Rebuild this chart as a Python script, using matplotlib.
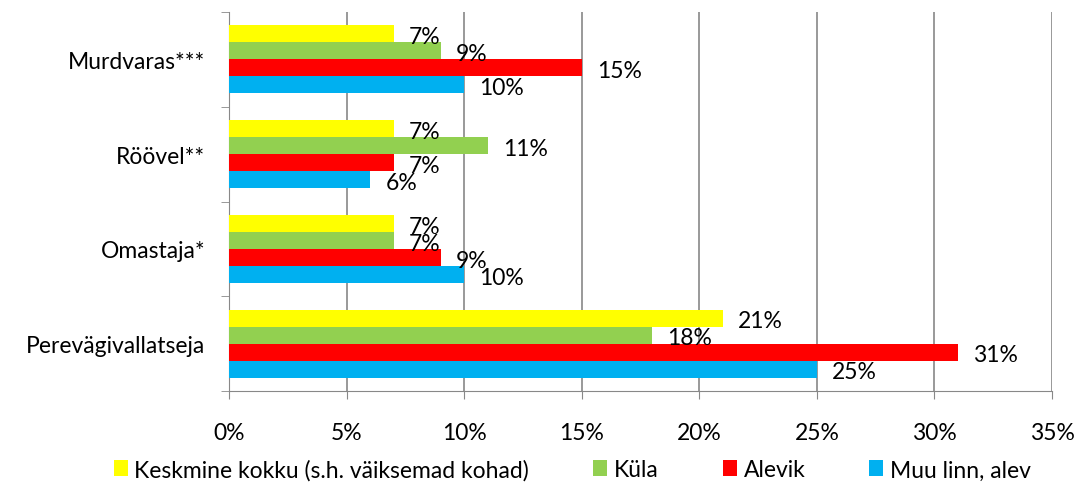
import matplotlib.pyplot as plt
import numpy as np

plt.rcParams['font.family'] = ['Lato', 'DejaVu Sans']

categories = ["Perevägivallatseja", "Omastaja*", "Röövel**", "Murdvaras***"]
series_names = ["Keskmine kokku (s.h. väiksemad kohad)", "Küla", "Alevik", "Muu linn, alev"]
colors = ["#FFFF00", "#92D050", "#FF0000", "#00B0F0"]

keskmine = [21, 7, 7, 7]
kyla = [18, 7, 11, 9]
alevik = [31, 9, 7, 15]
muu_linn = [25, 10, 6, 10]
values = [keskmine, kyla, alevik, muu_linn]

fig = plt.figure(figsize=(10.8, 4.85), dpi=100)
ax = fig.add_axes([229 / 1080, 1 - 392 / 485, (1052 - 229) / 1080, (392 - 13) / 485])

y = np.arange(len(categories))
h = 0.18
for i, (name, vals, c) in enumerate(zip(series_names, values, colors)):
    pos = y + (1.5 - i) * h
    ax.barh(pos, vals, height=h, color=c, label=name, zorder=3)
    for p, v in zip(pos, vals):
        ax.annotate(f"{v}%", (v, p), xytext=(11, -2), textcoords="offset points",
                    ha="left", va="center", fontsize=16.5, zorder=4)

ax.set_xlim(0, 35)
ax.set_ylim(-0.5, 3.5)
ax.set_xticks(range(0, 36, 5))
ax.set_xticklabels([f"{t}%" for t in range(0, 36, 5)], fontsize=16.5)
ax.set_yticks(y)
ax.set_yticklabels(categories, fontsize=16.5)
ax.set_yticks(np.arange(-0.5, 3.6, 1), minor=True)
ax.tick_params(axis="y", which="major", length=0, pad=17)
ax.tick_params(axis="y", which="minor", length=6, color="#888888")
ax.tick_params(axis="x", length=6, color="#888888", pad=16)
ax.grid(axis="x", color="#888888", linewidth=1.2, zorder=0)
for s in ["top", "right"]:
    ax.spines[s].set_visible(False)
ax.spines["left"].set_color("#888888")
ax.spines["bottom"].set_color("#888888")

fig.legend(loc="lower center", bbox_to_anchor=(0.53, -0.035), ncol=4, frameon=False,
           fontsize=16.5, handlelength=0.6, handleheight=0.7, handletextpad=0.3,
           columnspacing=2.8)

fig.savefig("out.png", dpi=100)
